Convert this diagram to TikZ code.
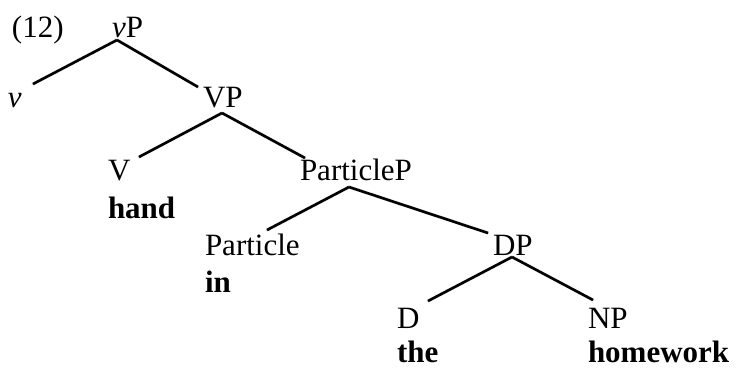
\documentclass[tikz,border=0pt]{standalone}
\usepackage{fontspec}
\setmainfont{Liberation Serif}
\usetikzlibrary{calc}
\begin{document}
\begin{tikzpicture}[x=1pt,y=-1pt,
  lab/.style={anchor=base west,inner sep=0pt,outer sep=0pt,font=\fontsize{31}{36}\selectfont},
  word/.style={lab,font=\fontsize{31}{36}\selectfont\bfseries},
  branch/.style={line width=2.6pt,line cap=butt,black},
  shade/.style={line width=3.2pt,line cap=round,black!12}]
\useasboundingbox (0,0) rectangle (736,368);
% labels
\node[lab] (ex) at (12,37) {(12)};
\node[lab] (vP) at (112,37) {\textit{v}P};
\node[lab] (v) at (8,107) {\textit{v}};
\node[lab] (VP) at (203,107) {VP};
\node[lab] (V) at (108,180) {V};
\node[word] (hand) at (108,218) {hand};
\node[lab] (PP) at (300,180) {ParticleP};
\node[lab] (Prt) at (205,255) {Particle};
\node[word] (in) at (205,292) {in};
\node[lab] (DP) at (493,255) {DP};
\node[lab] (D) at (397,328) {D};
\node[word] (the) at (397,362) {the};
\node[lab] (NP) at (588,328) {NP};
\node[word] (hw) at (588,362) {homework};
% branch points, placed relative to the labels
\coordinate (vP-a) at ($(vP.base west)+(5,3)$);
\coordinate (v-t) at ($(v.base west)+(25,-23)$);
\coordinate (VP-t) at ($(VP.base west)+(-5,-20)$);
\coordinate (VP-a) at ($(VP.base west)+(19,6)$);
\coordinate (V-t) at ($(V.base west)+(31,-23)$);
\coordinate (PP-t) at ($(PP.base west)+(5,-22)$);
\coordinate (PP-a) at ($(PP.base west)+(49,7)$);
\coordinate (Prt-t) at ($(Prt.base west)+(62,-25)$);
\coordinate (DP-t) at ($(DP.base west)+(-5,-22)$);
\coordinate (DP-a) at ($(DP.base west)+(19,2)$);
\coordinate (D-t) at ($(D.base west)+(31,-27)$);
\coordinate (NP-t) at ($(NP.base west)+(5,-28)$);
% faint shadows of the branches
\begin{scope}[shift={(1.5,2)}]
\draw[shade] (vP-a) -- (v-t);
\draw[shade] (vP-a) -- (VP-t);
\draw[shade] (VP-a) -- (V-t);
\draw[shade] (VP-a) -- (PP-t);
\draw[shade] (PP-a) -- (Prt-t);
\draw[shade] (PP-a) -- (DP-t);
\draw[shade] (DP-a) -- (D-t);
\draw[shade] (DP-a) -- (NP-t);
\end{scope}
% branches
\draw[branch] (vP-a) -- (v-t);
\draw[branch] (vP-a) -- (VP-t);
\draw[branch] (VP-a) -- (V-t);
\draw[branch] (VP-a) -- (PP-t);
\draw[branch] (PP-a) -- (Prt-t);
\draw[branch] (PP-a) -- (DP-t);
\draw[branch] (DP-a) -- (D-t);
\draw[branch] (DP-a) -- (NP-t);
\end{tikzpicture}
\end{document}
